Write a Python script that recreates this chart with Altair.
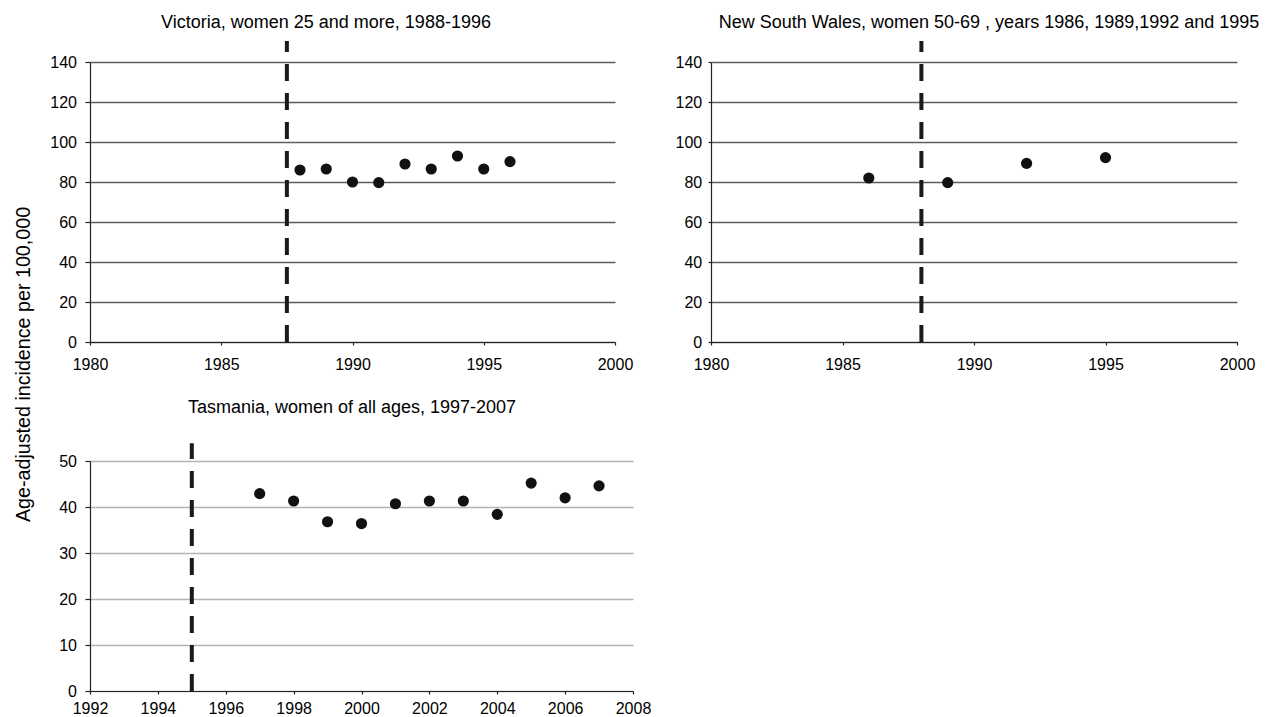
import altair as alt
import pandas as pd

FONT = "Liberation Sans"

# ---- data ----
vic_years = [1988, 1989, 1990, 1991, 1992, 1993, 1994, 1995, 1996]
vic_values = [86.0, 86.5, 80.0, 79.7, 89.0, 86.5, 93.0, 86.5, 90.2]
vic_screening = 1987.5

nsw_years = [1986, 1989, 1992, 1995]
nsw_values = [82.0, 79.7, 89.3, 92.2]
nsw_screening = 1988

tas_years = [1997, 1998, 1999, 2000, 2001, 2002, 2003, 2004, 2005, 2006, 2007]
tas_values = [42.9, 41.3, 36.8, 36.4, 40.7, 41.3, 41.3, 38.4, 45.2, 42.0, 44.6]
tas_screening = 1995

vic_title = "Victoria, women 25 and more, 1988-1996"
nsw_title = "New South Wales, women 50-69 , years 1986, 1989,1992 and 1995"
tas_title = "Tasmania, women of all ages, 1997-2007"
y_title = "Age-adjusted incidence per 100,000"

top_x_ticks = [1980, 1985, 1990, 1995, 2000]
top_y_ticks = [0, 20, 40, 60, 80, 100, 120, 140]
tas_x_ticks = [1992, 1994, 1996, 1998, 2000, 2002, 2004, 2006, 2008]
tas_y_ticks = [0, 10, 20, 30, 40, 50]


def panel(years, values, screening, title, xdom, xticks, ydom, yticks,
          w, h, grid_color, dx, offset, rule_top, ylab_pad, ytick, xlab_pad,
          ytitle=None):
    df = pd.DataFrame({"year": years, "value": values})
    rule_df = pd.DataFrame({"year": [screening], "value": [ydom[0]]})

    yaxis_kw = dict(values=yticks, grid=True, gridColor=grid_color, gridWidth=1.4,
                    tickSize=ytick, labelPadding=ylab_pad, format="d",
                    labelFlush=False, labelOverlap=False)
    if ytitle:
        yaxis_kw.update(title=ytitle, titleFontSize=19.7, titleFont=FONT,
                        titleFontWeight="normal", titleColor="#000",
                        titleX=-67, titleY=302, titleAlign="center",
                        titleBaseline="middle", titleAngle=270)
    else:
        yaxis_kw.update(title=None)

    x = alt.X("year:Q",
              scale=alt.Scale(domain=xdom, nice=False, zero=False),
              axis=alt.Axis(values=xticks, format="d", grid=False, tickSize=3,
                            labelPadding=xlab_pad, title=None,
                            labelFlush=False, labelOverlap=False))
    y = alt.Y("value:Q",
              scale=alt.Scale(domain=ydom, nice=False, zero=False),
              axis=alt.Axis(**yaxis_kw))

    rule = alt.Chart(rule_df).mark_rule(
        strokeDash=[17, 12], strokeWidth=4, color="#1a1a1a", strokeCap="butt"
    ).encode(x=x, y=y, y2=alt.value(rule_top))

    pts = alt.Chart(df).mark_circle(size=125, color="#111111", opacity=1).encode(x=x, y=y)

    return alt.layer(rule, pts).properties(
        width=w, height=h,
        title=alt.TitleParams(text=title, fontSize=18, font=FONT, fontWeight="normal",
                              color="#000", anchor="middle", frame="group", dx=dx,
                              baseline="alphabetic", offset=offset),
    )


p1 = panel(vic_years, vic_values, vic_screening, vic_title, [1980, 2000], top_x_ticks,
           [0, 140], top_y_ticks, 525, 280, "#5e5e5e", -26.5, -7, -21, 8.5, 5, 11,
           ytitle=y_title)
p2 = panel(nsw_years, nsw_values, nsw_screening, nsw_title, [1980, 2000], top_x_ticks,
           [0, 140], top_y_ticks, 526, 280, "#5e5e5e", 15, -7, -21, 6.3, 3, 11)
p3 = panel(tas_years, tas_values, tas_screening, tas_title, [1992, 2008], tas_x_ticks,
           [0, 50], tas_y_ticks, 543, 230, "#b4b4b4", -9.5, 10, -17.7, 8.5, 5, 6)

chart = alt.concat(p1, p2, p3, columns=2, spacing={"row": 119, "column": 78},
                   bounds="flush").properties(
    padding={"left": 5, "top": 6, "right": 0, "bottom": 0}
).configure_view(stroke=None).configure_axis(
    labelFont=FONT, labelFontSize=16, labelColor="#000",
    domainColor="#222", domainWidth=1.2, tickColor="#222", tickWidth=1.2,
)

chart.save("out.html", embed_options={"renderer": "svg", "actions": False})
